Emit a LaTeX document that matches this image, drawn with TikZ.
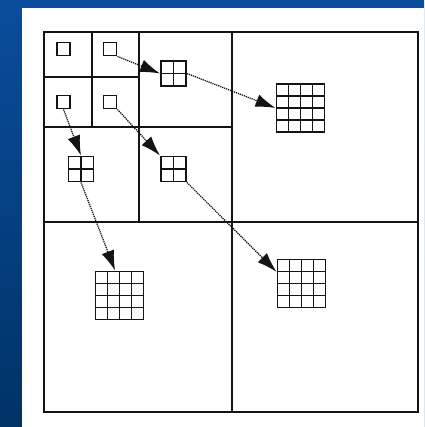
\documentclass[tikz,border=0pt]{standalone}
\usetikzlibrary{arrows.meta,calc}
\definecolor{bgtop}{HTML}{0A4C9C}
\definecolor{bgbot}{HTML}{003366}
\definecolor{ink}{HTML}{141414}
\tikzset{
  frame/.style={line width=1.9pt, draw=ink},
  cellbox/.style={draw=ink, line width=1.9pt, rectangle, inner sep=0pt, minimum size=#1},
  sq/.style={cellbox=13pt},
  gridtwo/.style={cellbox=25pt, path picture={
      \draw[ink, line width=1.8pt] (path picture bounding box.north) -- (path picture bounding box.south)
        (path picture bounding box.west) -- (path picture bounding box.east);}},
  gridfour/.style={cellbox=48pt, path picture={
      \foreach \f in {0.25,0.5,0.75}{
        \draw[ink, line width=1.8pt]
          ($(path picture bounding box.north west)!\f!(path picture bounding box.north east)$) --
          ($(path picture bounding box.south west)!\f!(path picture bounding box.south east)$)
          ($(path picture bounding box.north west)!\f!(path picture bounding box.south west)$) --
          ($(path picture bounding box.north east)!\f!(path picture bounding box.south east)$);}}},
  conn/.style={draw=ink, line width=1.3pt, dash pattern=on 1.2pt off 0.9pt,
    -{Latex[length=20pt,width=13pt]}}
}
\begin{document}
\begin{tikzpicture}[x=1pt,y=-1pt]
\useasboundingbox (0,0) rectangle (424,427);
\shade[top color=bgtop, bottom color=bgbot] (0,0) rectangle (424,427);
\fill[white] (22,8) rectangle (424,427);
% quadtree partition
\draw[frame] (44,32) rectangle (418,412);
\draw[frame] (232,32) -- (232,412);
\draw[frame] (44,222) -- (418,222);
\draw[frame] (139,32) -- (139,222);
\draw[frame] (44,127) -- (232,127);
\draw[frame] (92,32) -- (92,127);
\draw[frame] (44,77) -- (139,77);
% level 3 squares
\node[sq] (s1) at (63.5,49) {};
\node[sq] (s2) at (110,49) {};
\node[sq] (s3) at (63.5,102) {};
\node[sq] (s4) at (110,102) {};
% level 2 grids
\node[gridtwo] (g1) at (173.5,73.5) {};
\node[gridtwo] (g2) at (81,169) {};
\node[gridtwo] (g3) at (173.5,169) {};
% level 1 grids
\node[gridfour] (G1) at (300.5,108) {};
\node[gridfour] (G2) at (119.5,295.5) {};
\node[gridfour] (G3) at (301.5,283.5) {};
% arrows
\draw[conn] (s2.south east) -- (g1.west);
\draw[conn] (g1.east) -- (G1.west);
\draw[conn] (s3.south) -- (g2.north);
\draw[conn] (s4.south east) -- (g3.north west);
\draw[conn] (g2.south) -- (G2.100);
\draw[conn] (g3.south east) -- (G3.155);
\end{tikzpicture}
\end{document}
